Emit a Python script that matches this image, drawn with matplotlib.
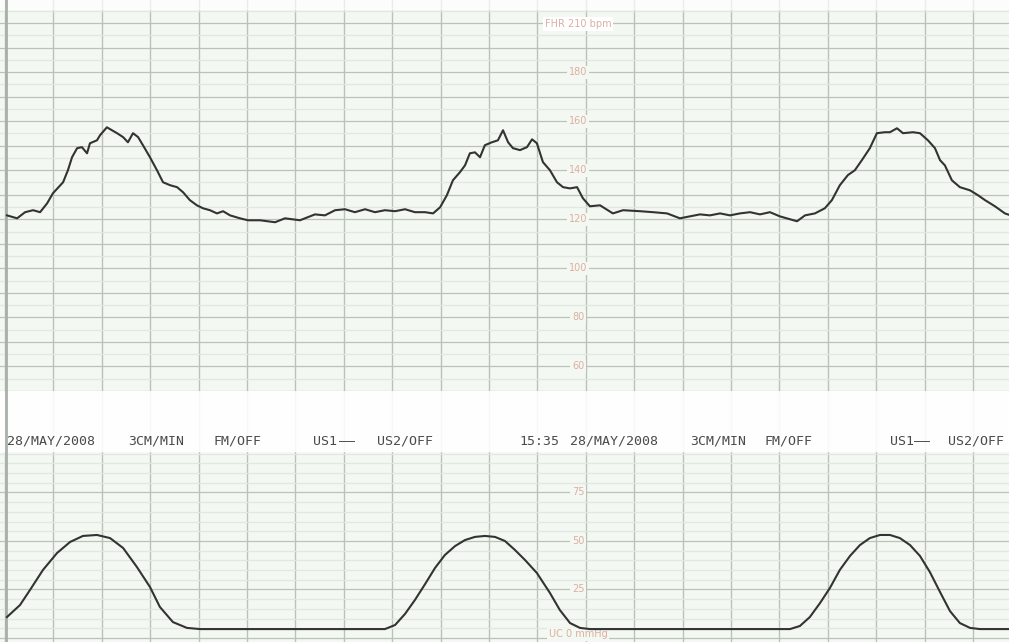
import matplotlib.pyplot as plt
import numpy as np

# fetal heart rate trace (time in s, bpm)
fhr_t = [0.8, 5.0, 8.3, 11.6, 14.5, 17.4, 19.8, 24.0, 26.0, 27.7, 29.8, 31.8, 33.9, 35.1,
         38.0, 39.3, 42.1, 44.2, 46.3, 48.8, 50.8, 52.9, 55.0, 57.0, 59.9, 62.8, 65.3, 68.2,
         71.1, 73.6, 76.4, 79.3, 81.8, 84.7, 87.6, 90.1, 93.0, 97.1, 100.4, 105.4, 111.6,
         115.7, 121.9, 128.1, 132.2, 136.4, 140.5, 144.6, 148.8, 152.9, 157.0, 161.2, 165.3,
         169.4, 173.6, 176.9, 179.8, 182.6, 185.1, 188.0, 190.1, 192.1, 194.2, 196.3, 198.3,
         201.2, 203.7, 205.8, 207.9, 209.9, 212.8, 215.7, 217.8, 219.8, 222.3, 225.2, 228.1,
         230.6, 233.5, 236.4, 238.8, 241.7, 245.9, 251.2, 255.4, 262.4, 267.8, 273.6, 278.9,
         283.1, 287.2, 291.3, 295.5, 299.6, 303.7, 307.9, 312.0, 316.1, 320.2, 324.4, 327.3,
         330.6, 334.7, 338.8, 341.7, 345.0, 348.3, 351.2, 354.1, 357.4, 360.3, 363.6, 365.7,
         368.6, 371.1, 375.2, 378.1, 381.4, 384.3, 386.4, 388.4, 391.3, 394.6, 398.8, 402.1,
         405.0, 409.1, 413.2, 415.0]
fhr_bpm = [121.6, 120.4, 122.9, 123.7, 122.9, 126.5, 130.6, 135.1, 140.0, 145.3, 149.0, 149.4,
           146.9, 151.0, 152.2, 154.3, 157.5, 156.3, 155.1, 153.5, 151.4, 155.1, 153.5, 150.2,
           145.3, 140.0, 135.1, 133.9, 133.1, 131.0, 127.8, 125.7, 124.5, 123.7, 122.4, 123.3,
           121.6, 120.4, 119.6, 119.6, 118.8, 120.4, 119.6, 122.0, 121.6, 123.7, 124.1, 122.9,
           124.1, 122.9, 123.7, 123.3, 124.1, 122.9, 122.9, 122.4, 124.9, 129.8, 135.9, 139.2,
           142.0, 146.9, 147.3, 145.3, 150.2, 151.4, 152.2, 156.3, 151.4, 149.0, 148.2, 149.4,
           152.6, 151.0, 143.3, 140.0, 135.1, 133.1, 132.6, 133.1, 128.6, 125.3, 125.7, 122.4,
           123.7, 123.3, 122.9, 122.4, 120.4, 121.2, 122.0, 121.6, 122.4, 121.6, 122.4, 122.9,
           122.0, 122.9, 121.2, 120.0, 119.2, 121.6, 122.4, 124.5, 127.8, 133.9, 138.0, 140.0,
           144.1, 149.0, 155.1, 155.5, 155.5, 157.1, 155.1, 155.5, 155.1, 152.2, 149.0, 144.1,
           142.0, 135.9, 133.1, 131.8, 129.8, 127.8, 125.3, 122.4, 121.8]

# uterine contraction trace (time in s, mmHg)
uc_t = [0.8, 6.2, 10.3, 15.7, 21.5, 26.9, 32.2, 38.0, 43.4, 48.8, 54.5, 59.9, 64.0, 69.4,
        75.2, 80.6, 157.0, 161.2, 165.3, 169.4, 173.6, 177.7, 181.8, 186.0, 190.1, 194.2,
        198.3, 202.5, 206.6, 210.7, 214.9, 219.8, 225.2, 229.3, 233.5, 237.6, 241.7, 324.4,
        328.5, 332.6, 336.8, 340.9, 345.0, 349.2, 353.3, 357.4, 361.6, 365.7, 369.8, 374.0,
        378.1, 382.2, 386.4, 390.5, 394.6, 398.8, 402.9, 415.0]
uc_mmhg = [10.8, 17.0, 24.7, 35.1, 43.8, 49.5, 52.6, 53.1, 51.5, 46.4, 36.6, 26.3, 16.0, 8.2,
           5.2, 4.6, 4.6, 6.7, 12.4, 19.6, 27.8, 36.1, 42.8, 47.4, 50.5, 52.1, 52.6, 52.1,
           50.0, 45.4, 40.2, 33.5, 23.2, 14.4, 7.7, 5.2, 4.6, 4.6, 6.2, 10.8, 18.0, 25.8, 35.1,
           42.3, 47.9, 51.5, 53.1, 53.1, 51.5, 47.9, 42.3, 34.0, 23.7, 13.9, 7.7, 5.2, 4.6, 4.6]

fhr_labels = [180, 160, 140, 120, 100, 80, 60]
uc_labels = [75, 50, 25]

header_left = ["28/MAY/2008", "3CM/MIN", "FM/OFF", "US1", "\u2014\u2014", "US2/OFF"]
header_left_t = [0.8, 50.8, 86.0, 127.3, 138.0, 153.7]
header_right = ["15:35", "28/MAY/2008", "3CM/MIN", "FM/OFF", "US1", "\u2014\u2014", "US2/OFF"]
header_right_t = [212.5, 233.5, 283.1, 314.0, 365.7, 375.5, 389.7]

paper = '#f4f8f2'
major = '#b9c3b9'
minor = '#e0e8df'
ink = '#333333'
scale_col = '#dbb0a0'
xlim = (-2.07, 414.9)
label_t = 236.8

fig = plt.figure(figsize=(10.09, 6.42), dpi=100)
fig.patch.set_facecolor(paper)

ax1 = fig.add_axes([0, 1 - 391 / 642, 1, 391 / 642])
ax2 = fig.add_axes([0, 0, 1, 251 / 642])

for ax in (ax1, ax2):
    ax.set_facecolor(paper)
    ax.set_xlim(*xlim)
    for s in ax.spines.values():
        s.set_visible(False)
    ax.set_xticks([])
    ax.set_yticks([])
    for t in np.arange(0, 420, 20):
        ax.axvline(t, color=major, lw=1.0, zorder=1)

ax1.set_ylim(50, 209.4)
for v in np.arange(50, 215, 5):
    ax1.axhline(v, color=major if v % 10 == 0 else minor, lw=0.9, zorder=1)
ax1.axhspan(205.8, 212, color='white', alpha=0.7, zorder=2)
ax1.plot(fhr_t, fhr_bpm, color=ink, lw=1.5, zorder=4)
for v in fhr_labels:
    ax1.text(label_t, v, str(v), ha='center', va='center', fontsize=7, color=scale_col,
             zorder=3, bbox=dict(boxstyle='square,pad=0.15', fc=paper, ec='none'))
ax1.text(label_t, 199.5, "FHR 210 bpm", ha='center', va='center', fontsize=7, color=scale_col,
         zorder=3, bbox=dict(boxstyle='square,pad=0.2', fc='white', ec='none'))

ax2.set_ylim(-2.06, 127.3)
for v in np.arange(0, 100, 5):
    ax2.axhline(v, color=major if v % 25 == 0 else minor, lw=0.9, zorder=1)
ax2.axhspan(96.5, 130, color='white', alpha=0.88, zorder=2)
ax2.plot(uc_t, uc_mmhg, color=ink, lw=1.5, zorder=4)
for v in uc_labels:
    ax2.text(label_t, v, str(v), ha='center', va='center', fontsize=7, color=scale_col,
             zorder=3, bbox=dict(boxstyle='square,pad=0.15', fc=paper, ec='none'))
ax2.text(label_t, 2.0, "UC 0 mmHg", ha='center', va='center', fontsize=7, color=scale_col,
         zorder=3, bbox=dict(boxstyle='square,pad=0.15', fc=paper, ec='none'))

for txt, t in zip(header_left + header_right, header_left_t + header_right_t):
    ax2.text(t, 101.5, txt, ha='left', va='center', fontsize=9.5, color='#4a4a4a',
             family='DejaVu Sans Mono', zorder=5, clip_on=False)

# paper edge on the left
ax1.axvline(0.3, color='#a9b0a9', lw=2, zorder=2)
ax2.axvline(0.3, color='#a9b0a9', lw=2, zorder=2)

plt.savefig("out.png", dpi=100, facecolor=paper)
